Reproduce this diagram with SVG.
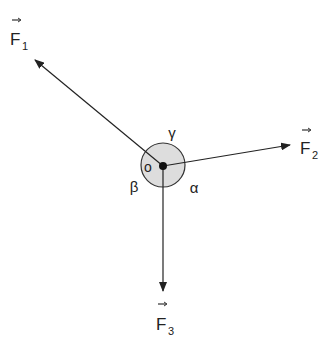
<svg xmlns="http://www.w3.org/2000/svg" width="323" height="338" viewBox="0 0 323 338">
<style>
.c{stroke:#222;stroke-width:1.2;fill:none}
.t{font-family:"Liberation Sans",Arial,sans-serif;fill:#222}
.v{font-family:"Liberation Sans",Arial,sans-serif;font-size:17px;fill:#222}
.s{font-family:"Liberation Sans",Arial,sans-serif;font-size:11px;fill:#222}
</style>
<defs>
<marker id="ah" viewBox="0 0 10 8" refX="9" refY="4" markerWidth="10" markerHeight="8" markerUnits="userSpaceOnUse" orient="auto">
<path d="M0,0 L10,4 L0,8 Z" fill="#222"/>
</marker>
</defs>
<rect width="323" height="338" fill="#fff"/>
<g id="body">
<circle cx="163" cy="165" r="22" fill="#ddd" stroke="#333" stroke-width="1.2"/>
</g>
<g id="connectors">
<line class="c" x1="163" y1="166" x2="35" y2="60" marker-end="url(#ah)"/>
<line class="c" x1="163" y1="166" x2="290" y2="145" marker-end="url(#ah)"/>
<line class="c" x1="163" y1="166" x2="163" y2="291" marker-end="url(#ah)"/>
</g>
<g id="center">
<circle cx="163" cy="166" r="4" fill="#111"/>
<text class="t" x="148" y="172" font-size="14" text-anchor="middle">o</text>
</g>
<g id="F1">
<text class="v" x="10" y="45">F</text>
<text class="s" x="22" y="50">1</text>
<line x1="12" y1="20" x2="20" y2="20" stroke="#333" stroke-width="1.2"/>
<path d="M18,18 L21,20 L18,22" fill="none" stroke="#333" stroke-width="1"/>
</g>
<g id="F2">
<text class="v" x="300" y="154">F</text>
<text class="s" x="312" y="159">2</text>
<line x1="302" y1="130" x2="310" y2="130" stroke="#333" stroke-width="1.2"/>
<path d="M308,128 L311,130 L308,132" fill="none" stroke="#333" stroke-width="1"/>
</g>
<g id="F3">
<text class="v" x="156" y="330">F</text>
<text class="s" x="168" y="335">3</text>
<line x1="158" y1="304" x2="166" y2="304" stroke="#333" stroke-width="1.2"/>
<path d="M164,302 L167,304 L164,306" fill="none" stroke="#333" stroke-width="1"/>
</g>
<g id="angles">
<text class="t" x="172" y="138" font-size="15" text-anchor="middle">γ</text>
<text class="t" x="134" y="192" font-size="15" text-anchor="middle">β</text>
<text class="t" x="194" y="193" font-size="15" text-anchor="middle">α</text>
</g>
</svg>
